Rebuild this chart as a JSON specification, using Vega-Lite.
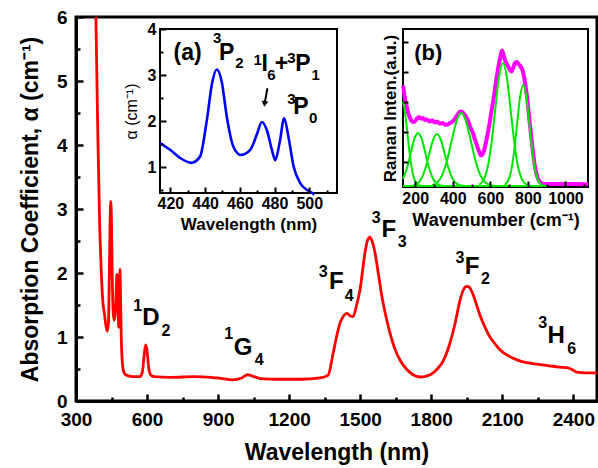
{
  "$schema": "https://vega.github.io/schema/vega-lite/v6.json",
  "width": 521,
  "height": 384,
  "autosize": {"type": "none"},
  "padding": {"left": 76, "top": 17, "right": 1, "bottom": 67},
  "background": "white",
  "config": {"font": "Liberation Sans", "view": {"stroke": "black", "strokeWidth": 3}},
  "datasets": {
    "main": [
      {"x":375,"y":8.5},{"x":384,"y":6.0},{"x":392,"y":4.2},{"x":400,"y":2.75},{"x":407,"y":2.0},{"x":414,"y":1.52},{"x":420,"y":1.37},{"x":425.5,"y":1.2},{"x":432,"y":1.09},{"x":437,"y":1.22},{"x":441,"y":2.02},{"x":444,"y":2.82},{"x":446.7,"y":3.12},{"x":449.6,"y":2.85},{"x":452.5,"y":2.09},{"x":456.3,"y":1.44},{"x":460.6,"y":1.26},{"x":466,"y":1.37},{"x":470,"y":1.73},{"x":472.7,"y":1.98},{"x":475.6,"y":1.8},{"x":478.5,"y":1.37},{"x":480.4,"y":1.15},{"x":482.9,"y":1.52},{"x":485.6,"y":2.06},{"x":488,"y":1.66},{"x":491,"y":1.01},{"x":494.8,"y":0.65},{"x":498.7,"y":0.5},{"x":502,"y":0.45},{"x":510,"y":0.41},{"x":525,"y":0.39},{"x":550,"y":0.38},{"x":570,"y":0.38},{"x":580,"y":0.45},{"x":588,"y":0.72},{"x":594,"y":0.875},{"x":600,"y":0.78},{"x":607,"y":0.52},{"x":615,"y":0.41},{"x":630,"y":0.38},{"x":700,"y":0.37},{"x":800,"y":0.38},{"x":870,"y":0.37},{"x":920,"y":0.35},{"x":960,"y":0.33},{"x":1000,"y":0.36},{"x":1025,"y":0.41},{"x":1045,"y":0.39},{"x":1080,"y":0.35},{"x":1150,"y":0.34},{"x":1250,"y":0.34},{"x":1330,"y":0.36},{"x":1364,"y":0.4},{"x":1386,"y":0.75},{"x":1400,"y":1.0},{"x":1415,"y":1.22},{"x":1430,"y":1.33},{"x":1444,"y":1.37},{"x":1458,"y":1.33},{"x":1470,"y":1.32},{"x":1485,"y":1.5},{"x":1499,"y":1.73},{"x":1520,"y":2.31},{"x":1532,"y":2.52},{"x":1541,"y":2.56},{"x":1550,"y":2.5},{"x":1563,"y":2.31},{"x":1577,"y":1.98},{"x":1592,"y":1.63},{"x":1610,"y":1.3},{"x":1626,"y":1.06},{"x":1645,"y":0.83},{"x":1668,"y":0.64},{"x":1695,"y":0.5},{"x":1723,"y":0.41},{"x":1753,"y":0.375},{"x":1780,"y":0.39},{"x":1808,"y":0.44},{"x":1830,"y":0.52},{"x":1845,"y":0.59},{"x":1870,"y":0.8},{"x":1900,"y":1.2},{"x":1922,"y":1.58},{"x":1935,"y":1.73},{"x":1950,"y":1.79},{"x":1960,"y":1.78},{"x":1975,"y":1.68},{"x":1990,"y":1.52},{"x":2006,"y":1.34},{"x":2025,"y":1.17},{"x":2048,"y":1.0},{"x":2070,"y":0.89},{"x":2090,"y":0.8},{"x":2115,"y":0.73},{"x":2145,"y":0.67},{"x":2180,"y":0.62},{"x":2217,"y":0.59},{"x":2260,"y":0.57},{"x":2300,"y":0.55},{"x":2340,"y":0.53},{"x":2374,"y":0.52},{"x":2400,"y":0.48},{"x":2416,"y":0.45},{"x":2450,"y":0.44},{"x":2500,"y":0.44}
    ],
    "mainlab": [
      {"x":561,"y":1.406,"t":"1","k":"s"},{"x":616,"y":1.1875,"t":"D","k":"b"},{"x":680,"y":1.016,"t":"2","k":"s"},
      {"x":945,"y":0.964,"t":"1","k":"s"},{"x":1006,"y":0.719,"t":"G","k":"b"},{"x":1074,"y":0.5625,"t":"4","k":"s"},
      {"x":1344,"y":1.933,"t":"3","k":"s"},{"x":1399,"y":1.75,"t":"F","k":"b"},{"x":1454,"y":1.567,"t":"4","k":"s"},
      {"x":1568,"y":2.777,"t":"3","k":"s"},{"x":1621,"y":2.567,"t":"F","k":"b"},{"x":1677,"y":2.411,"t":"3","k":"s"},
      {"x":1921,"y":2.152,"t":"3","k":"s"},{"x":1973,"y":1.98,"t":"F","k":"b"},{"x":2029,"y":1.828,"t":"2","k":"s"},
      {"x":2271,"y":1.136,"t":"3","k":"s"},{"x":2328,"y":0.911,"t":"H","k":"b"},{"x":2393,"y":0.734,"t":"6","k":"s"}
    ],
    "ia": [
      {"x":414,"y":1.52},{"x":420,"y":1.37},{"x":425.5,"y":1.2},{"x":432,"y":1.09},{"x":437,"y":1.22},{"x":441,"y":2.02},{"x":444,"y":2.82},{"x":446.7,"y":3.12},{"x":449.6,"y":2.85},{"x":452.5,"y":2.09},{"x":456.3,"y":1.44},{"x":460.6,"y":1.26},{"x":466,"y":1.37},{"x":470,"y":1.73},{"x":472.7,"y":1.98},{"x":475.6,"y":1.8},{"x":478.5,"y":1.37},{"x":480.4,"y":1.15},{"x":482.9,"y":1.52},{"x":485.6,"y":2.06},{"x":488,"y":1.66},{"x":491,"y":1.01},{"x":494.8,"y":0.65},{"x":498.7,"y":0.5},{"x":500.6,"y":0.46},{"x":503,"y":0.4}
    ],
    "iaframe": [{"x":414,"x2":516,"y":0.435,"y2":4}],
    "ialab": [
      {"x":429.9,"y":3.326,"t":"(a)","k":"b"},
      {"x":447.0,"y":3.689,"t":"3","k":"s"},{"x":452.4,"y":3.326,"t":"P","k":"b"},{"x":459.7,"y":3.146,"t":"2","k":"s"},
      {"x":470.3,"y":3.217,"t":"1","k":"s"},{"x":474.3,"y":3.093,"t":"I","k":"b"},{"x":478.2,"y":2.891,"t":"6","k":"s"},{"x":484.0,"y":3.093,"t":"+","k":"b"},{"x":489.7,"y":3.254,"t":"3","k":"s"},{"x":496.4,"y":3.093,"t":"P","k":"b"},{"x":503.7,"y":2.891,"t":"1","k":"s"},
      {"x":489.7,"y":2.37,"t":"3","k":"s"},{"x":495.2,"y":2.152,"t":"P","k":"b"},{"x":502.3,"y":1.95,"t":"0","k":"s"}
    ],
    "arrow": [{"x":475.9,"y":2.711,"x2":474.5,"y2":2.42}],
    "arrowhead": [{"x":474.3,"y":2.37}],
    "ib": [
      {"x":135,"y":3.55},{"x":140,"y":3.35},{"x":147,"y":3.05},{"x":155,"y":2.85},{"x":163,"y":2.62},{"x":172,"y":2.48},{"x":180,"y":2.38},{"x":190,"y":2.33},{"x":199,"y":2.36},{"x":210,"y":2.45},{"x":220,"y":2.5},{"x":230,"y":2.44},{"x":240,"y":2.47},{"x":252,"y":2.4},{"x":263,"y":2.42},{"x":275,"y":2.35},{"x":290,"y":2.38},{"x":305,"y":2.32},{"x":316,"y":2.35},{"x":330,"y":2.28},{"x":345,"y":2.3},{"x":360,"y":2.24},{"x":372,"y":2.25},{"x":385,"y":2.3},{"x":400,"y":2.35},{"x":415,"y":2.48},{"x":428,"y":2.6},{"x":440,"y":2.68},{"x":452,"y":2.66},{"x":465,"y":2.56},{"x":476,"y":2.45},{"x":490,"y":2.22},{"x":508,"y":1.95},{"x":525,"y":1.62},{"x":540,"y":1.35},{"x":550,"y":1.22},{"x":558,"y":1.25},{"x":568,"y":1.42},{"x":580,"y":1.75},{"x":592,"y":2.15},{"x":605,"y":2.65},{"x":618,"y":3.15},{"x":632,"y":3.75},{"x":645,"y":4.25},{"x":655,"y":4.55},{"x":662,"y":4.72},{"x":668,"y":4.62},{"x":678,"y":4.4},{"x":690,"y":4.25},{"x":702,"y":4.1},{"x":713,"y":4.02},{"x":722,"y":4.15},{"x":732,"y":4.3},{"x":742,"y":4.33},{"x":752,"y":4.25},{"x":762,"y":4.18},{"x":772,"y":4.05},{"x":782,"y":3.75},{"x":795,"y":3.2},{"x":808,"y":2.4},{"x":822,"y":1.6},{"x":835,"y":0.95},{"x":848,"y":0.55},{"x":862,"y":0.35},{"x":880,"y":0.28},{"x":900,"y":0.27},{"x":950,"y":0.27},{"x":1000,"y":0.26},{"x":1050,"y":0.27},{"x":1120,"y":0.26}
    ],
    "green": [
      {"s":"g0","x":135,"y":0.2},{"s":"g0","x":880,"y":0.2},
      {"s":"g1","x":135,"y":3.01},{"s":"g1","x":145,"y":2.69},{"s":"g1","x":155,"y":2.17},{"s":"g1","x":165,"y":1.57},{"s":"g1","x":175,"y":1.06},{"s":"g1","x":185,"y":0.67},{"s":"g1","x":200,"y":0.36},{"s":"g1","x":215,"y":0.24},{"s":"g1","x":240,"y":0.2},
      {"s":"g2","x":135,"y":0.44},{"s":"g2","x":155,"y":0.775},{"s":"g2","x":175,"y":1.27},{"s":"g2","x":195,"y":1.76},{"s":"g2","x":215,"y":1.97},{"s":"g2","x":235,"y":1.76},{"s":"g2","x":255,"y":1.27},{"s":"g2","x":275,"y":0.775},{"s":"g2","x":295,"y":0.44},{"s":"g2","x":315,"y":0.28},{"s":"g2","x":335,"y":0.22},{"s":"g2","x":360,"y":0.2},
      {"s":"g3","x":190,"y":0.22},{"s":"g3","x":211,"y":0.28},{"s":"g3","x":232,"y":0.43},{"s":"g3","x":253,"y":0.76},{"s":"g3","x":274,"y":1.25},{"s":"g3","x":295,"y":1.73},{"s":"g3","x":316,"y":1.93},{"s":"g3","x":337,"y":1.73},{"s":"g3","x":358,"y":1.25},{"s":"g3","x":379,"y":0.76},{"s":"g3","x":400,"y":0.43},{"s":"g3","x":421,"y":0.28},{"s":"g3","x":442,"y":0.22},{"s":"g3","x":470,"y":0.2},
      {"s":"g4","x":289,"y":0.23},{"s":"g4","x":315,"y":0.31},{"s":"g4","x":341,"y":0.53},{"s":"g4","x":367,"y":0.99},{"s":"g4","x":393,"y":1.68},{"s":"g4","x":419,"y":2.34},{"s":"g4","x":445,"y":2.63},{"s":"g4","x":471,"y":2.34},{"s":"g4","x":497,"y":1.68},{"s":"g4","x":523,"y":0.99},{"s":"g4","x":549,"y":0.53},{"s":"g4","x":575,"y":0.31},{"s":"g4","x":601,"y":0.23},{"s":"g4","x":630,"y":0.2},
      {"s":"g5","x":541,"y":0.25},{"s":"g5","x":562,"y":0.38},{"s":"g5","x":583,"y":0.75},{"s":"g5","x":604,"y":1.53},{"s":"g5","x":625,"y":2.69},{"s":"g5","x":646,"y":3.82},{"s":"g5","x":667,"y":4.3},{"s":"g5","x":688,"y":3.82},{"s":"g5","x":709,"y":2.69},{"s":"g5","x":730,"y":1.53},{"s":"g5","x":751,"y":0.75},{"s":"g5","x":772,"y":0.38},{"s":"g5","x":793,"y":0.25},{"s":"g5","x":820,"y":0.2},
      {"s":"g6","x":676,"y":0.24},{"s":"g6","x":692.5,"y":0.35},{"s":"g6","x":709,"y":0.65},{"s":"g6","x":725.5,"y":1.3},{"s":"g6","x":742,"y":2.25},{"s":"g6","x":758.5,"y":3.17},{"s":"g6","x":775,"y":3.57},{"s":"g6","x":791.5,"y":3.17},{"s":"g6","x":808,"y":2.25},{"s":"g6","x":824.5,"y":1.3},{"s":"g6","x":841,"y":0.65},{"s":"g6","x":857.5,"y":0.35},{"s":"g6","x":874,"y":0.24},{"s":"g6","x":900,"y":0.2}
    ],
    "ibframe": [{"x":135,"x2":1120,"y":0.167,"y2":5.433}],
    "iblab": [{"x":269.7,"y":4.4,"t":"(b)"}]
  },
  "layer": [
    {
      "encoding": {
        "x": {"field": "x", "type": "quantitative",
          "scale": {"domain": [300, 2500], "nice": false, "zero": false},
          "axis": {"orient": "bottom", "values": [300,450,600,750,900,1050,1200,1350,1500,1650,1800,1950,2100,2250,2400],
            "labelExpr": "datum.value % 300 === 0 ? format(datum.value, 'd') : ''",
            "tickSize": {"condition": {"test": "datum.value % 300 === 0", "value": -7}, "value": -4},
            "tickWidth": 2.5, "tickColor": "black", "domainColor": "black", "domainWidth": 3,
            "labelFont": "Liberation Sans", "labelFontWeight": "bold", "labelFontSize": 19, "labelColor": "black", "labelPadding": 16,
            "labelFlush": false, "labelOverlap": false,
            "title": "Wavelength (nm)", "titleFont": "Liberation Sans", "titleFontSize": 23, "titleFontWeight": "bold", "titleColor": "black", "titlePadding": 9,
            "grid": false, "zindex": 1}},
        "y": {"field": "y", "type": "quantitative",
          "scale": {"domain": [0, 6], "nice": false, "zero": false},
          "axis": {"orient": "left", "values": [0,0.5,1,1.5,2,2.5,3,3.5,4,4.5,5,5.5,6],
            "labelExpr": "datum.value % 1 === 0 ? format(datum.value, 'd') : ''",
            "tickSize": {"condition": {"test": "datum.value % 1 === 0", "value": -7}, "value": -4},
            "tickWidth": 2.5, "tickColor": "black", "domainColor": "black", "domainWidth": 3,
            "labelFont": "Liberation Sans", "labelFontWeight": "bold", "labelFontSize": 19, "labelColor": "black", "labelPadding": 16,
            "labelFlush": false, "labelOverlap": false,
            "title": "Absorption Coefficient, α (cm⁻¹)", "titleFont": "Liberation Sans", "titleFontSize": 23, "titleFontWeight": "bold", "titleColor": "black", "titlePadding": 14,
            "grid": false, "zindex": 1}}
      },
      "layer": [
        {"data": {"name": "main"}, "mark": {"type": "line", "color": "#ff0000", "strokeWidth": 2.8, "clip": true, "interpolate": "monotone"}},
        {"data": {"name": "mainlab"}, "transform": [{"filter": "datum.k === 'b'"}],
          "mark": {"type": "text", "font": "Liberation Sans", "fontWeight": "bold", "fontSize": 24, "align": "center", "baseline": "alphabetic", "color": "black"},
          "encoding": {"text": {"field": "t"}}},
        {"data": {"name": "mainlab"}, "transform": [{"filter": "datum.k === 's'"}],
          "mark": {"type": "text", "font": "Liberation Sans", "fontWeight": "bold", "fontSize": 16, "align": "center", "baseline": "alphabetic", "color": "black"},
          "encoding": {"text": {"field": "t"}}}
      ]
    },
    {
      "encoding": {
        "x": {"field": "x", "type": "quantitative",
          "scale": {"domain": [414, 516], "nice": false, "zero": false, "range": [84, 261]},
          "axis": {"orient": "bottom", "offset": -208, "values": [420,430,440,450,460,470,480,490,500,510],
            "labelExpr": "datum.value % 20 === 0 && datum.value <= 500 ? format(datum.value, 'd') : ''",
            "tickSize": {"condition": {"test": "datum.value % 20 === 0", "value": -6}, "value": -3},
            "tickWidth": 2, "tickColor": "black", "domain": false,
            "labelFont": "Liberation Sans", "labelFontWeight": "bold", "labelFontSize": 16, "labelColor": "black", "labelPadding": 8,
            "labelFlush": false, "labelOverlap": false,
            "title": "Wavelength (nm)", "titleFont": "Liberation Sans", "titleFontSize": 17, "titleFontWeight": "bold", "titleColor": "black", "titlePadding": 2,
            "grid": false, "zindex": 1}},
        "y": {"field": "y", "type": "quantitative",
          "scale": {"domain": [0.435, 4], "nice": false, "zero": false, "range": [176, 12]},
          "axis": {"orient": "left", "offset": -84, "values": [0.5,1,1.5,2,2.5,3,3.5,4],
            "labelExpr": "datum.value % 1 === 0 ? format(datum.value, 'd') : ''",
            "tickSize": {"condition": {"test": "datum.value % 1 === 0", "value": -6}, "value": -3},
            "tickWidth": 2, "tickColor": "black", "domain": false,
            "labelFont": "Liberation Sans", "labelFontWeight": "bold", "labelFontSize": 16, "labelColor": "black", "labelPadding": 10,
            "labelFlush": false, "labelOverlap": false,
            "title": "α (cm⁻¹)", "titleFont": "Liberation Sans", "titleFontSize": 16, "titleFontWeight": "normal", "titleColor": "black", "titlePadding": 8,
            "grid": false, "zindex": 1}}
      },
      "layer": [
        {"data": {"name": "iaframe"}, "mark": {"type": "rect", "fill": "white", "stroke": "black", "strokeWidth": 2},
          "encoding": {"x2": {"field": "x2"}, "y2": {"field": "y2"}}},
        {"data": {"name": "ia"}, "mark": {"type": "line", "color": "#0000ff", "strokeWidth": 2.6, "clip": true, "interpolate": "monotone"}},
        {"data": {"name": "ialab"}, "transform": [{"filter": "datum.k === 'b'"}],
          "mark": {"type": "text", "font": "Liberation Sans", "fontWeight": "bold", "fontSize": 23, "align": "center", "baseline": "alphabetic", "color": "black"},
          "encoding": {"text": {"field": "t"}}},
        {"data": {"name": "ialab"}, "transform": [{"filter": "datum.k === 's'"}],
          "mark": {"type": "text", "font": "Liberation Sans", "fontWeight": "bold", "fontSize": 15, "align": "center", "baseline": "alphabetic", "color": "black"},
          "encoding": {"text": {"field": "t"}}},
        {"data": {"name": "arrow"}, "mark": {"type": "rule", "color": "black", "strokeWidth": 2},
          "encoding": {"x2": {"field": "x2"}, "y2": {"field": "y2"}}},
        {"data": {"name": "arrowhead"}, "mark": {"type": "point", "shape": "triangle-down", "filled": true, "color": "black", "size": 45, "opacity": 1, "angle": 8}}
      ]
    },
    {
      "encoding": {
        "x": {"field": "x", "type": "quantitative",
          "scale": {"domain": [135, 1120], "nice": false, "zero": false, "range": [327, 512]},
          "axis": {"orient": "bottom", "offset": -214, "values": [200,300,400,500,600,700,800,900,1000,1100],
            "labelExpr": "datum.value % 200 === 0 ? format(datum.value, 'd') : ''",
            "tickSize": {"condition": {"test": "datum.value % 200 === 0", "value": -6}, "value": -3},
            "tickWidth": 2, "tickColor": "black", "domain": false,
            "labelFont": "Liberation Sans", "labelFontWeight": "bold", "labelFontSize": 16, "labelColor": "black", "labelPadding": 9,
            "labelFlush": false, "labelOverlap": false,
            "title": "Wavenumber (cm⁻¹)", "titleFont": "Liberation Sans", "titleFontSize": 18, "titleFontWeight": "bold", "titleColor": "black", "titlePadding": 2,
            "grid": false, "zindex": 1}},
        "y": {"field": "y", "type": "quantitative",
          "scale": {"domain": [0.167, 5.433], "nice": false, "zero": false, "range": [170, 12]},
          "axis": {"orient": "left", "offset": -327, "values": [1,2,3,4,5], "labels": false,
            "tickSize": -5, "tickWidth": 2, "tickColor": "black", "domain": false,
            "title": "Raman Inten.(a.u.)", "titleFont": "Liberation Sans", "titleFontSize": 17, "titleFontWeight": "bold", "titleColor": "black", "titlePadding": 3,
            "grid": false, "zindex": 1}}
      },
      "layer": [
        {"data": {"name": "ibframe"}, "mark": {"type": "rect", "fill": "white", "stroke": "black", "strokeWidth": 2},
          "encoding": {"x2": {"field": "x2"}, "y2": {"field": "y2"}}},
        {"data": {"name": "ib"}, "mark": {"type": "line", "color": "#ff00ff", "strokeWidth": 4, "clip": true, "interpolate": "monotone"}},
        {"data": {"name": "green"}, "mark": {"type": "line", "color": "#00e600", "strokeWidth": 2, "clip": true, "interpolate": "monotone"},
          "encoding": {"detail": {"field": "s"}}},
        {"data": {"name": "iblab"},
          "mark": {"type": "text", "font": "Liberation Sans", "fontWeight": "bold", "fontSize": 22, "align": "center", "baseline": "alphabetic", "color": "black"},
          "encoding": {"text": {"field": "t"}}}
      ]
    }
  ],
  "resolve": {"scale": {"x": "independent", "y": "independent"}, "axis": {"x": "independent", "y": "independent"}}
}
